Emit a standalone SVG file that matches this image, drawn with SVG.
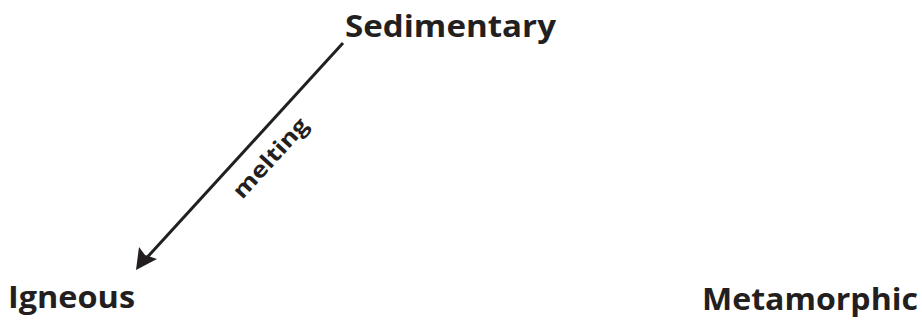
<svg xmlns="http://www.w3.org/2000/svg" width="922" height="323" viewBox="0 0 922 323">
<style>
.node{font-family:"Open Sans","Noto Sans","Liberation Sans",sans-serif;font-weight:bold;font-size:31px;fill:#231f20}
.lbl{font-family:"Open Sans","Noto Sans","Liberation Sans",sans-serif;font-weight:bold;font-size:22px;fill:#231f20}
.edge{stroke:#231f20;stroke-width:3;fill:none}
</style>
<rect width="922" height="323" fill="#fff"/>
<g id="sedimentary"><text class="node" x="345" y="37" textLength="211" lengthAdjust="spacingAndGlyphs">Sedimentary</text></g>
<g id="igneous"><text class="node" x="8" y="308" textLength="127" lengthAdjust="spacingAndGlyphs">Igneous</text></g>
<g id="metamorphic"><text class="node" x="702" y="310" textLength="216" lengthAdjust="spacingAndGlyphs">Metamorphic</text></g>
<g id="connectors">
<line class="edge" x1="343" y1="43" x2="142" y2="263"/>
<path d="M136,270 L139,247 L145,255 L157,259 Z" fill="#231f20"/>
<text class="lbl" transform="translate(276,163) rotate(-47.6)" text-anchor="middle" textLength="100" lengthAdjust="spacingAndGlyphs">melting</text>
</g>
</svg>
